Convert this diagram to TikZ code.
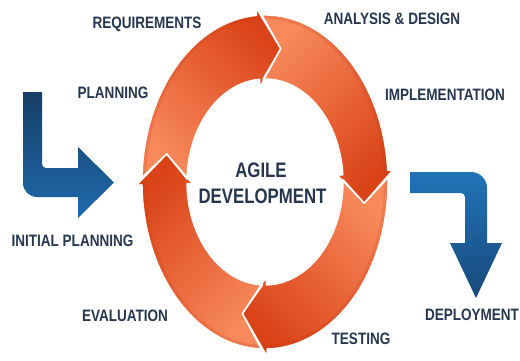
\documentclass[tikz,border=0pt]{standalone}
\usepackage{fontspec}
\newfontfamily\lblfont[FakeStretch=0.82]{Liberation Sans}
\newfontfamily\ctrfont[FakeStretch=0.8]{Liberation Sans}
\definecolor{lblcol}{HTML}{26364F}
\definecolor{orlight}{HTML}{F7895B}
\definecolor{ormid}{HTML}{EF6233}
\definecolor{ordark}{HTML}{DA4318}
\definecolor{oredge}{HTML}{C8350F}
\definecolor{bluetop}{HTML}{173F66}
\definecolor{bluebot}{HTML}{1E6AAC}
\definecolor{bluelight}{HTML}{2274B8}
\definecolor{bluedark}{HTML}{17497A}
% point on the ring: angle #1, fraction #2 across the band (0 inner, 1 outer)
\newcommand\rpt[2]{({265+(78+45*(#2))*cos(#1)},{178+(103+64*(#2))*sin(#1)})}
% ring segment: #1 tail angle, #2 notch apex angle, #3 head base angle, #4 head tip angle
\newcommand\ringseg[4]{%
  \rpt{#1}{1} arc[start angle=#1, end angle=#3, x radius=123, y radius=167]
  -- \rpt{#3}{1.12} -- \rpt{#4}{0.5} -- \rpt{#3}{-0.12} -- \rpt{#3}{0}
  arc[start angle=#3, end angle=#1, x radius=78, y radius=103]
  -- \rpt{#2}{0.5} -- cycle}
\newcommand\segA{\ringseg{178.4}{168}{94}{81}}
\newcommand\segB{\ringseg{91.4}{81}{4}{-9}}
\newcommand\segC{\ringseg{1.4}{-9}{-89}{-103}}
\newcommand\segD{\ringseg{268.2}{257}{181}{168}}
\tikzset{
  lbl/.style={font=\lblfont\bfseries\fontsize{16.5}{18}\selectfont, text=lblcol,
    text height=11.8pt, text depth=0pt, inner sep=0pt},
  ctr/.style={font=\ctrfont\bfseries\fontsize{21}{23}\selectfont, text=lblcol,
    text height=15pt, text depth=0pt, inner sep=0pt},
  ringpart/.style={top color=ordark, middle color=ormid, bottom color=orlight},
  ringline/.style={draw=white, line width=1.4pt, line join=round},
}
\begin{document}
\begin{tikzpicture}[x=1pt,y=1pt]
\useasboundingbox (0,0) rectangle (520,360);
\fill[white] (0,0) rectangle (520,360);

% orange cycle
\shade[ringpart, shading angle=-45] \segA;
\shade[ringpart, shading angle=-135] \segB;
\shade[ringpart, shading angle=135] \segC;
\shade[ringpart, shading angle=45] \segD;
\begin{scope}
  \clip \segA \segB \segC \segD;
  \draw[oredge, opacity=0.18, line width=16pt] (265,178) ellipse [x radius=127, y radius=171];
  \draw[oredge, opacity=0.25, line width=7pt] (265,178) ellipse [x radius=126, y radius=170];
\end{scope}
\path[ringline] \segA;
\path[ringline] \segB;
\path[ringline] \segC;
\path[ringline] \segD;

% left blue arrow (initial planning)
\shade[top color=bluetop, bottom color=bluebot]
  (23,268) -- (42,268) -- (42,196) arc[start angle=180, end angle=270, radius=4]
  -- (78,192) -- (78,213) -- (114,177.5) -- (78,142) -- (78,163) -- (37,163)
  arc[start angle=270, end angle=180, radius=14] -- cycle;

% right blue arrow (deployment)
\shade[top color=bluelight, bottom color=bluedark]
  (410,188) -- (471,188) arc[start angle=90, end angle=0, radius=16]
  -- (487,117) -- (502,117) -- (476,62) -- (450,117) -- (465,117) -- (465,163)
  arc[start angle=0, end angle=90, radius=4] -- (410,167) -- cycle;

% labels
\node[lbl] (req) at (147,337) {REQUIREMENTS};
\node[lbl] (ana) at (392,341) {ANALYSIS \& DESIGN};
\node[lbl] (pla) at (113,267) {PLANNING};
\node[lbl] (imp) at (445,265) {IMPLEMENTATION};
\node[ctr] (agile) at (261,190.5) {AGILE};
\node[ctr] (dev) at (262.5,164) {DEVELOPMENT};
\node[lbl] (ini) at (72.5,119) {INITIAL PLANNING};
\node[lbl] (eva) at (125,44) {EVALUATION};
\node[lbl] (tes) at (361,21) {TESTING};
\node[lbl] (dep) at (472,45) {DEPLOYMENT};
\end{tikzpicture}
\end{document}
